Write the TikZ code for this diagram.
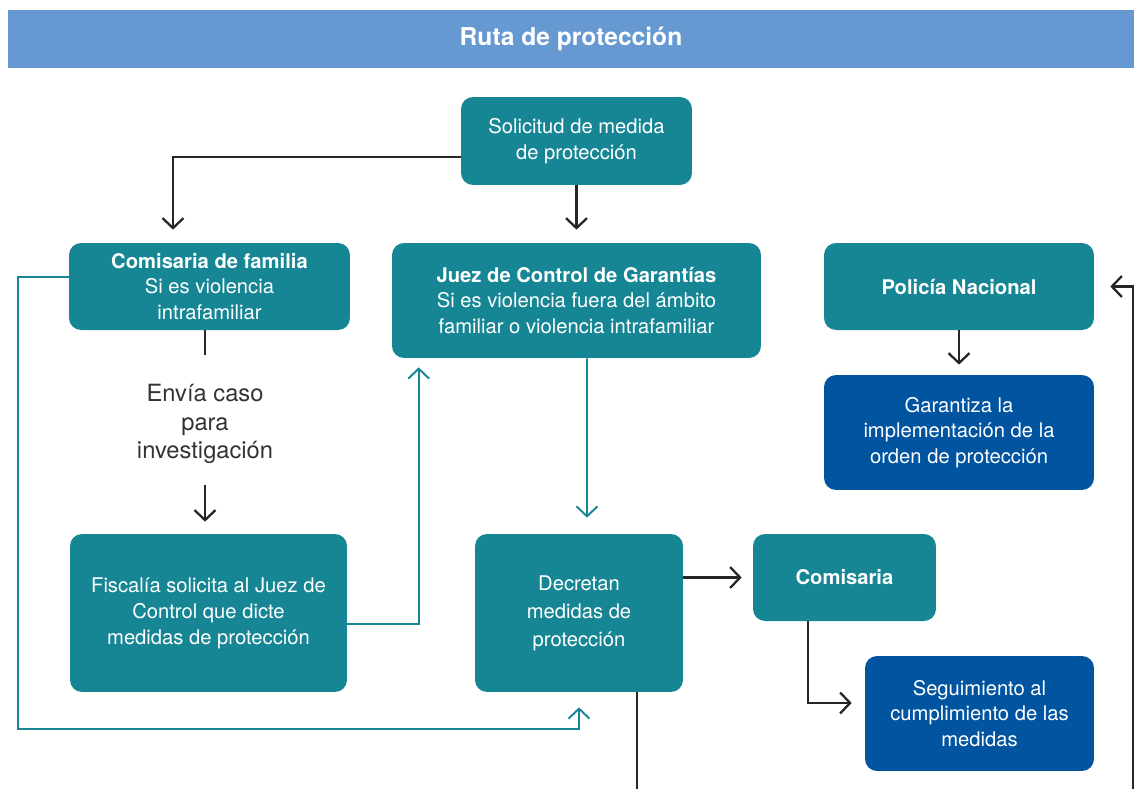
\documentclass[tikz,border=0pt]{standalone}
\usepackage{fontspec}
\setmainfont{TeX Gyre Heros}
\usepackage{tikz}
\usetikzlibrary{arrows.meta,calc}
\definecolor{ruta}{HTML}{6699D1}
\definecolor{verde}{HTML}{168695}
\definecolor{azul}{HTML}{0054A0}
\definecolor{texto}{HTML}{333333}
\tikzset{caja/.style={fill=verde,text=white,rounded corners=0.24cm,align=center,inner sep=0pt,
  font=\fontsize{11.5}{14.7}\selectfont},
 cajaazul/.style={caja,fill=azul},
 linea/.style={draw=black!85,line width=1.3pt},
 flecha/.style={linea,-{Straight Barb[length=0.2cm,width=0.42cm]}},
 flechaverde/.style={flecha,draw=verde,line width=1.1pt},
 }

\begin{document}
\begin{tikzpicture}[x=0.02cm,y=-0.02cm]
        \useasboundingbox (0,0) rectangle (1134,789);
        \node[fill=ruta,text=white,minimum width=22.52cm,minimum height=1.16cm,font=\fontsize{14}{16}\selectfont\bfseries] (head) at (571,39) {Ruta de protección};
        \node[caja,minimum width=4.62cm,minimum height=1.76cm] (sol) at (576.5,141) {Solicitud de medida\\de protección};
        \node[caja,minimum width=5.62cm,minimum height=1.74cm] (cfam) at (209.5,286.5) {\textbf{Comisaria de familia}\\Si es violencia\\intrafamiliar};
        \node[caja,minimum width=7.38cm,minimum height=2.3cm] (juez) at (576.5,300.5) {\textbf{Juez de Control de Garantías}\\Si es violencia fuera del ámbito\\familiar o violencia intrafamiliar};
        \node[caja,minimum width=5.4cm,minimum height=1.74cm] (pol) at (959,286.5) {\textbf{Policía Nacional}};
        \node[cajaazul,minimum width=5.4cm,minimum height=2.3cm] (gar) at (959,432.5) {Garantiza la\\implementación de la\\orden de protección};
        \node[caja,minimum width=5.54cm,minimum height=3.16cm] (fis) at (208.5,613) {Fiscalía solicita al Juez de\\Control que dicte\\medidas de protección};
        \node[caja,minimum width=4.16cm,minimum height=3.16cm,font=\fontsize{11.5}{16}\selectfont] (dec) at (579,613) {Decretan\\medidas de\\protección};
        \node[caja,minimum width=3.66cm,minimum height=1.74cm] (com) at (844.5,577.5) {\textbf{Comisaria}};
        \node[cajaazul,minimum width=4.58cm,minimum height=2.3cm] (seg) at (979.5,713.5) {Seguimiento al\\cumplimiento de las\\medidas};
        \node[text=texto,align=center,font=\fontsize{13.5}{16}\selectfont] (envia) at (205,424) {Envía caso\\para\\investigación};
        \coordinate (out1) at (637,789);
        \coordinate (in1) at (1133,789);

        \draw[flecha,shorten >=0.26cm] ($(sol.west)+(0,16)$) -| ($(cfam.north)+(-36.5,0)$);
        \draw[flecha,shorten >=0.26cm] (sol.south) -- (juez.north);
        \draw[linea,shorten >=0.46cm] (cfam.south -| envia) -- (envia.north);
        \draw[flecha,shorten <=0.3cm,shorten >=0.24cm] (envia.south) -- (fis.north -| envia);
        \draw[flechaverde,shorten >=0.3cm] ($(cfam.west)+(0,-9.5)$) -- (18,277) -- (18,729) -| (dec.south);
        \draw[flechaverde,shorten >=0.18cm] ($(fis.east)+(0,11)$) -| ($(juez.south west)+(27,0)$);
        \draw[flechaverde,shorten >=0.32cm] ($(juez.south)+(10.5,0)$) -- ($(dec.north)+(8,0)$);
        \draw[flecha,shorten >=0.2cm] (pol.south) -- (gar.north);
        \draw[flecha,shorten >=0.22cm] (dec.east |- com.west) -- (com.west);
        \draw[flecha,shorten >=0.26cm] ($(com.south)+(-36.5,0)$) |- ($(seg.west)+(0,-10.5)$);
        \draw[linea] ($(dec.south)+(58,0)$) -- (out1);
        \draw[flecha,shorten >=0.32cm] (in1) |- (pol.east);
    \end{tikzpicture}
\end{document}
